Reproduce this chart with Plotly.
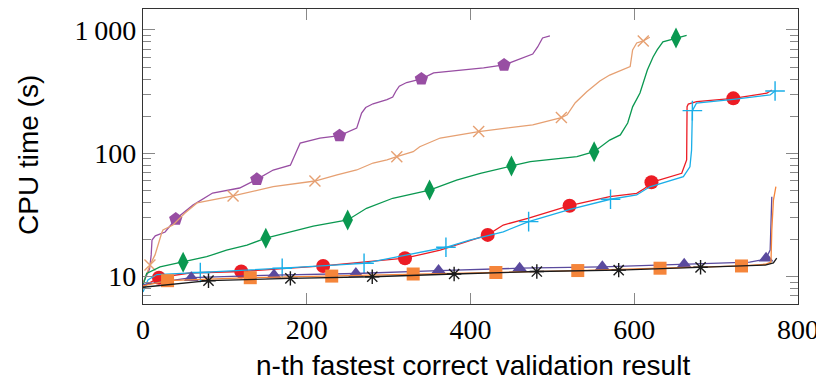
import plotly.graph_objects as go

# ---- data (n-th fastest result, CPU time in s) ----
purple_x = [0, 5, 8, 10, 11, 15, 27, 40, 61, 85, 118, 139, 159, 180, 186, 192, 216, 240, 261, 267, 272, 281, 298, 305, 309, 313, 322, 340, 355, 416, 441, 476, 482, 488, 497]
purple_y = [8.9, 10.3, 11.5, 15, 19.8, 21.4, 23, 29.3, 38, 47.6, 52.3, 61.5, 73.2, 80, 100, 121, 133, 139, 160, 212, 235, 252, 272, 286, 320, 350, 375, 401, 448, 492, 520, 638, 728, 861, 894]
purple_marks = [40, 139, 240, 340, 441]

tan_x = [0, 2, 8.5, 14.7, 22.8, 24.4, 36.6, 51.3, 66, 110, 159, 210, 237, 261, 281, 298, 310, 330, 338, 363, 410, 476, 511, 518, 528, 534, 542, 558, 570, 595, 598, 603, 611, 619]
tan_y = [8.9, 9.5, 12.4, 15.0, 22.6, 23.9, 26.2, 32.8, 39.6, 45.1, 53.6, 59.6, 66.7, 73.2, 83.4, 88.3, 93.8, 103, 113, 133, 150, 170, 195, 205, 257, 281, 316, 386, 431, 504, 689, 785, 815, 873]
tan_marks = [8.5, 110, 210, 310, 410, 511, 611]

green_x = [0, 4.5, 20.8, 49, 77.8, 102, 127, 150, 179.5, 208, 250, 273, 305, 350, 383, 412, 450, 473, 530, 551, 570, 583, 592, 598, 607, 616, 623, 628, 635, 651, 664]
green_y = [8.5, 10.6, 12.0, 13.1, 14.5, 16.4, 18.0, 20.5, 23.1, 25.7, 28.8, 35.8, 43.2, 50.3, 60.7, 68.8, 78.9, 85.5, 93.8, 103, 128, 141, 176, 238, 308, 474, 604, 689, 800, 861, 902]
green_marks = [49, 150, 250, 350, 450, 551, 651]

red_x = [0, 19.5, 57, 120, 220, 320, 363, 412, 421, 440, 470, 521, 570, 603, 613, 621, 644, 658, 664, 664.5, 666, 676, 721, 762, 768]
red_y = [8.3, 9.8, 10.7, 11.0, 12.2, 14.1, 16.4, 20.9, 21.8, 26.2, 29.7, 37.6, 44.5, 47.4, 52.0, 58.2, 64.6, 68.8, 88.3, 239, 251, 262, 279, 307, 326]
red_marks = [19.5, 120, 220, 320, 421, 521, 621, 721]

cyan_x = [0, 6, 17, 70, 170, 270, 370, 399, 440, 471, 521.5, 571, 603, 619, 660, 668, 670, 671, 676, 721, 766, 772]
cyan_y = [7.5, 9.4, 10.4, 10.8, 11.7, 12.8, 17.3, 19.8, 23.1, 27.9, 35.1, 42.4, 45.9, 53.5, 64.6, 77.8, 106, 222, 255, 274, 297, 320]
cyan_marks = [70, 170, 270, 370, 471, 571, 671, 772]

indigo_x = [0, 59, 160, 260, 361, 460, 561, 661, 741, 754, 761, 766, 768]
indigo_y = [8.6, 9.8, 10.3, 10.6, 11.2, 11.7, 12.0, 12.6, 13.1, 13.6, 14.1, 16.4, 44.5]
indigo_marks = [59, 160, 260, 361, 460, 561, 661, 761]

orange_x = [0, 30, 131, 230.5, 330, 431, 531, 631.5, 731, 760, 767, 768, 770, 773]
orange_y = [8.4, 9.27, 9.8, 10.1, 10.5, 10.8, 11.2, 11.7, 12.2, 12.6, 13.1, 23.9, 41.8, 53.6]
orange_marks = [30, 131, 230.5, 330, 431, 531, 631.5, 731]

black_x = [0, 80, 180, 280, 380, 481, 581, 681, 760, 770, 774]
black_y = [8.2, 9.27, 9.68, 9.98, 10.5, 11.0, 11.3, 11.9, 12.4, 12.9, 14.1]
black_marks = [80, 180, 280, 380, 481, 581, 681]

x_ticks = [0, 200, 400, 600, 800]
y_ticks = [10, 100, 1000]
y_ticktext = ["10", "100", "1\u2009000"]
y_minor = [7, 8, 9, 20, 30, 40, 50, 60, 70, 80, 90, 200, 300, 400, 500, 600, 700, 800, 900]
x_title = "n-th fastest correct validation result"
y_title = "CPU time (s)"

series = [
    dict(x=purple_x, y=purple_y, m=purple_marks, color="#984ea3", symbol="pentagon", size=14, thin=False),
    dict(x=tan_x, y=tan_y, m=tan_marks, color="#e6a072", symbol="x-thin", size=11, thin=True),
    dict(x=green_x, y=green_y, m=green_marks, color="#0a9850", symbol="diamond-tall", size=15, thin=False),
    dict(x=red_x, y=red_y, m=red_marks, color="#ec1c24", symbol="circle", size=14, thin=False),
    dict(x=cyan_x, y=cyan_y, m=cyan_marks, color="#1aaee8", symbol="cross-thin", size=14, thin=True),
    dict(x=indigo_x, y=indigo_y, m=indigo_marks, color="#5a4a9e", symbol="triangle-up", size=13, thin=False),
    dict(x=orange_x, y=orange_y, m=orange_marks, color="#f5853a", symbol="square", size=13, thin=False),
    dict(x=black_x, y=black_y, m=black_marks, color="#1a1a1a", symbol="asterisk", size=12, thin=True),
]

fig = go.Figure()
for s in series:
    fig.add_trace(go.Scatter(x=s["x"], y=s["y"], mode="lines",
                             line=dict(color=s["color"], width=1.3),
                             hoverinfo="skip", showlegend=False))
    mx = [xv for xv in s["x"] if xv in s["m"]]
    my = [yv for xv, yv in zip(s["x"], s["y"]) if xv in s["m"]]
    if s["thin"]:
        mk = dict(symbol=s["symbol"], size=s["size"], color=s["color"],
                  line=dict(color=s["color"], width=1.4))
    else:
        mk = dict(symbol=s["symbol"], size=s["size"], color=s["color"],
                  line=dict(width=0))
    fig.add_trace(go.Scatter(x=mx, y=my, mode="markers", marker=mk,
                             hoverinfo="skip", showlegend=False))

tick_font = dict(family="Liberation Serif", size=28, color="#000")
title_font = dict(family="Liberation Sans", size=28, color="#000")

# page body adds an 8px offset; the figure is sized to fit the window
W, H = 816, 373
L, R, T, B = 135, 26, 1, 77
pw, ph = W - L - R, H - T - B

fig.update_layout(
    width=W, height=H,
    margin=dict(l=L, r=R, t=T, b=B),
    paper_bgcolor="white", plot_bgcolor="white",
    xaxis=dict(range=[0, 800], tickvals=x_ticks, ticks="inside", ticklen=11,
               tickcolor="#888", tickwidth=1, mirror="allticks", showline=True,
               linecolor="#333", linewidth=1.4, showgrid=False, zeroline=False,
               tickfont=tick_font, automargin=False),
    yaxis=dict(type="log", range=[0.778, 3.170], tickvals=y_ticks, ticktext=y_ticktext,
               ticks="inside", ticklen=12, tickcolor="#888", tickwidth=1,
               mirror="allticks", showline=True, linecolor="#333", linewidth=1.4,
               showgrid=False, zeroline=False, tickfont=tick_font, automargin=False,
               minor=dict(tickvals=y_minor, ticks="inside", ticklen=8, tickcolor="#888", tickwidth=1, showgrid=False)),
    annotations=[
        dict(text=x_title, xref="paper", yref="paper",
             x=(464.5 - L) / pw, y=(H - B - 357) / ph, xanchor="center", yanchor="middle",
             showarrow=False, font=title_font),
        dict(text=y_title, xref="paper", yref="paper", textangle=-90,
             x=(20 - L) / pw, y=(H - B - 147) / ph, xanchor="center", yanchor="middle",
             showarrow=False, font=title_font),
    ],
)

fig.write_html("out.html")
